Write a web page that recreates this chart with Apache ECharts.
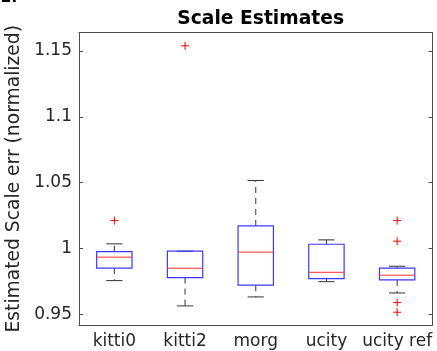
<!DOCTYPE html>
<html>
<head>
<meta charset="utf-8">
<script src="https://cdn.jsdelivr.net/npm/echarts@6/dist/echarts.min.js"></script>
<style>
html,body{margin:0;padding:0;background:#fff;}
#chart{width:437px;height:351px;}
</style>
</head>
<body>
<div id="chart"></div>
<script>
var categories = ['kitti0', 'kitti2', 'morg', 'ucity', 'ucity ref'];
var lowerWhisker = [0.9757, 0.9565, 0.9633, 0.9749, 0.9663];
var q1 = [0.9851, 0.9780, 0.9722, 0.9772, 0.9762];
var median = [0.9935, 0.9851, 0.9973, 0.9820, 0.9798];
var q3 = [0.9977, 0.9980, 1.0172, 1.0033, 0.9851];
var upperWhisker = [1.0036, 0.9980, 1.0517, 1.0066, 0.9866];
var outlierCat = [0, 1, 4, 4, 4, 4];
var outlierVal = [1.0213, 1.1539, 1.0213, 1.0056, 0.9590, 0.9517];
var yTicks = [0.95, 1, 1.05, 1.1, 1.15];
var yTickLabels = ['0.95', '1', '1.05', '1.1', '1.15'];
var title = 'Scale Estimates';
var yName = 'Estimated Scale err (normalized)';

var boxData = categories.map(function (c, i) {
  return [i, lowerWhisker[i], q1[i], median[i], q3[i], upperWhisker[i]];
});
var outData = outlierCat.map(function (c, i) { return [c, outlierVal[i]]; });

var FONT = 'DejaVu Sans';
var AX = '#4d4d4d';
var TICKFS = 17;
var LABFS = 18.7;

var chart = echarts.init(document.getElementById('chart'), null, {renderer: 'canvas'});

function renderBox(params, api) {
  var x = api.value(0);
  var band = api.size([1, 0])[0];
  var half = band * 0.25;
  var cap = band * 0.115;
  var pLo = api.coord([x, api.value(1)]);
  var pQ1 = api.coord([x, api.value(2)]);
  var pMed = api.coord([x, api.value(3)]);
  var pQ3 = api.coord([x, api.value(4)]);
  var pHi = api.coord([x, api.value(5)]);
  var cx = pMed[0];
  var dash = {stroke: '#333', lineWidth: 1, lineDash: [6, 5]};
  var solid = {stroke: '#333', lineWidth: 1};
  return {
    type: 'group',
    children: [
      {type: 'line', shape: {x1: cx, y1: pQ3[1], x2: cx, y2: pHi[1]}, style: dash},
      {type: 'line', shape: {x1: cx, y1: pQ1[1], x2: cx, y2: pLo[1]}, style: dash},
      {type: 'line', shape: {x1: cx - cap, y1: pHi[1], x2: cx + cap, y2: pHi[1]}, style: solid},
      {type: 'line', shape: {x1: cx - cap, y1: pLo[1], x2: cx + cap, y2: pLo[1]}, style: solid},
      {type: 'rect', shape: {x: cx - half, y: pQ3[1], width: half * 2, height: pQ1[1] - pQ3[1]},
        style: {fill: 'none', stroke: '#3a3aff', lineWidth: 1.2}},
      {type: 'line', shape: {x1: cx - half, y1: pMed[1], x2: cx + half, y2: pMed[1]},
        style: {stroke: '#ff3030', lineWidth: 1}}
    ]
  };
}

function renderOut(params, api) {
  var p = api.coord([api.value(0), api.value(1)]);
  var s = 4;
  var st = {stroke: '#ff0000', lineWidth: 1};
  return {
    type: 'group',
    children: [
      {type: 'line', shape: {x1: p[0] - s, y1: p[1], x2: p[0] + s, y2: p[1]}, style: st},
      {type: 'line', shape: {x1: p[0], y1: p[1] - s, x2: p[0], y2: p[1] + s}, style: st}
    ]
  };
}

var yMin = 0.942, yMax = 1.164;

var option = {
  animation: false,
  backgroundColor: '#fff',
  title: {
    text: title, left: 255.7, top: 5, textAlign: 'center',
    textStyle: {fontFamily: FONT, fontSize: LABFS, fontWeight: 'bold', color: '#000'}
  },
  graphic: [{
    type: 'text', left: 0, top: -10,
    style: {text: '1.', fontFamily: FONT, fontSize: 16, fontWeight: 'bold', fill: '#000'}
  }],
  grid: {left: 79, right: 4.5, top: 32.5, bottom: 26, containLabel: false, outerBoundsMode: 'none'},
  xAxis: [{
    type: 'category', data: categories, boundaryGap: true, position: 'bottom',
    axisLine: {lineStyle: {color: AX, width: 1}},
    axisTick: {inside: true, alignWithLabel: true, length: 4, lineStyle: {color: AX}},
    axisLabel: {fontFamily: FONT, fontSize: TICKFS, color: '#262626', margin: 8, interval: 0, hideOverlap: false},
    splitLine: {show: false}
  }, {
    type: 'category', data: categories, boundaryGap: true, position: 'top',
    axisLine: {lineStyle: {color: AX, width: 1}},
    axisTick: {inside: true, alignWithLabel: true, length: 4, lineStyle: {color: AX}},
    axisLabel: {show: false},
    splitLine: {show: false}
  }],
  yAxis: [{
    type: 'value', min: yMin, max: yMax, position: 'left',
    name: yName, nameLocation: 'middle', nameGap: 54,
    nameTextStyle: {fontFamily: FONT, fontSize: LABFS, color: '#262626'},
    axisLine: {show: true, lineStyle: {color: AX, width: 1}},
    axisTick: {show: true, inside: true, length: 4, lineStyle: {color: AX}, customValues: yTicks},
    axisLabel: {fontFamily: FONT, fontSize: TICKFS, color: '#262626', margin: 7, customValues: yTicks,
      formatter: function (v) { var i = yTicks.indexOf(+(+v).toFixed(4)); return i >= 0 ? yTickLabels[i] : ''; }},
    splitLine: {show: false}
  }, {
    type: 'value', min: yMin, max: yMax, position: 'right',
    axisLine: {show: true, lineStyle: {color: AX, width: 1}},
    axisTick: {show: true, inside: true, length: 4, lineStyle: {color: AX}, customValues: yTicks},
    axisLabel: {show: false},
    splitLine: {show: false}
  }],
  series: [{
    type: 'custom', renderItem: renderBox, data: boxData,
    xAxisIndex: 0, yAxisIndex: 0, encode: {x: 0, y: [1, 2, 3, 4, 5]}, clip: false
  }, {
    type: 'custom', renderItem: renderOut, data: outData,
    xAxisIndex: 0, yAxisIndex: 0, encode: {x: 0, y: 1}
  }]
};
chart.setOption(option);
</script>
</body>
</html>
